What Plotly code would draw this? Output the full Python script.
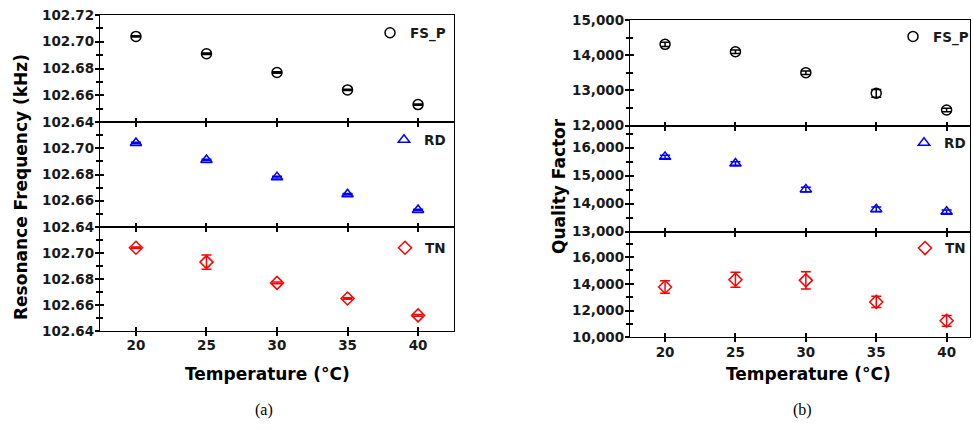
import plotly.graph_objects as go

# ---------------- data ----------------
temps = [20, 25, 30, 35, 40]
x_ticks = [20, 25, 30, 35, 40]

# (a) resonance frequency (kHz)
freq_fsp = [102.704, 102.691, 102.677, 102.664, 102.653]
freq_fsp_err = [0.0005, 0.0005, 0.0005, 0.0005, 0.0005]
freq_rd = [102.704, 102.691, 102.678, 102.665, 102.653]
freq_rd_err = [0.0006, 0.0006, 0.0006, 0.0006, 0.0006]
freq_tn = [102.704, 102.693, 102.677, 102.665, 102.652]
freq_tn_err = [0.0006, 0.0055, 0.0006, 0.0006, 0.0006]

# (b) quality factor
q_fsp = [14310, 14100, 13505, 12920, 12446]
q_fsp_err = [60, 50, 50, 110, 50]
q_rd = [15669, 15434, 14509, 13797, 13712]
q_rd_err = [60, 60, 80, 80, 60]
q_tn = [13762, 14312, 14260, 12647, 11234]
q_tn_err = [470, 560, 650, 420, 400]

series_names = ["FS_P", "RD", "TN"]

freq_ticks_top = [102.64, 102.66, 102.68, 102.70, 102.72]
freq_ticks = [102.64, 102.66, 102.68, 102.70]
q_ticks_p1 = [12000, 13000, 14000, 15000]
q_ticks_p2 = [13000, 14000, 15000, 16000]
q_ticks_p3 = [10000, 12000, 14000, 16000]

# ---------------- layout helpers ----------------
W, H = 973, 430


def px(x):
    return x / W


def py(y):
    return 1 - y / H


FONT = "DejaVu Sans"
TICKFONT = dict(family=FONT, size=13.5, color="#1a1a1a", weight="bold")

# panel geometry (pixels)
left_x = (100, 454)
left_y = [(15, 122), (122, 227), (227, 331)]
right_x = (630, 970)
right_y = [(20, 125.7), (125.7, 231.7), (231.7, 337.3)]

fig = go.Figure()

styles = [
    dict(color="black", symbol="circle-open"),
    dict(color="blue", symbol="triangle-up-open"),
    dict(color="red", symbol="diamond-open"),
]

panels = [
    (left_x, left_y[0], [17.45, 42.55], [102.64, 102.72], freq_ticks_top, 0.01, freq_fsp, freq_fsp_err, ".2f"),
    (left_x, left_y[1], [17.45, 42.55], [102.64, 102.72], freq_ticks, 0.01, freq_rd, freq_rd_err, ".2f"),
    (left_x, left_y[2], [17.45, 42.55], [102.64, 102.72], freq_ticks, 0.01, freq_tn, freq_tn_err, ".2f"),
    (right_x, right_y[0], [17.51, 41.66], [12000, 15000], q_ticks_p1, 500, q_fsp, q_fsp_err, ",d"),
    (right_x, right_y[1], [17.51, 41.66], [13000, 16780], q_ticks_p2, 500, q_rd, q_rd_err, ",d"),
    (right_x, right_y[2], [17.51, 41.66], [10000, 17900], q_ticks_p3, 1000, q_tn, q_tn_err, ",d"),
]

# legend anchor: (x px, y px)
legend_pos = [
    (451, 33), (451, 140), (451, 248),
    (974, 36.7), (971, 143), (971, 248.3),
]

layout = dict(
    width=W, height=H,
    margin=dict(l=0, r=0, t=0, b=0, autoexpand=False),
    paper_bgcolor="white", plot_bgcolor="rgba(0,0,0,0)",
    showlegend=True,
)

TL = 4
LW = 1.3
for i, (xp, yp, xr, yr, tv, mdt, vals, errs, fmt) in enumerate(panels):
    n = i + 1
    ov = i + 7
    k = i % 3
    xd = [px(xp[0]), px(xp[1])]
    yd = [py(yp[1]), py(yp[0])]
    bottom = (k == 2)
    xname = "xaxis" if n == 1 else f"xaxis{n}"
    yname = "yaxis" if n == 1 else f"yaxis{n}"
    xref = "x" if n == 1 else f"x{n}"
    yref = "y" if n == 1 else f"y{n}"
    layout[xname] = dict(
        domain=xd, range=xr, anchor=yref, tickvals=x_ticks, automargin=False,
        ticks="outside", ticklen=TL, tickwidth=1.5, tickcolor="black",
        showticklabels=bottom, tickfont=TICKFONT, ticklabelstandoff=-2,
        showline=True, linecolor="black", linewidth=LW, mirror=True,
        showgrid=False, zeroline=False,
    )
    layout[yname] = dict(
        domain=yd, range=yr, anchor=xref, tickvals=tv, tickformat=fmt, automargin=False,
        ticks="outside", ticklen=TL, tickwidth=1.5, tickcolor="black",
        minor=dict(dtick=mdt, tick0=yr[0], ticks="outside", ticklen=3, tickwidth=1.5,
                   tickcolor="black", showgrid=False),
        showticklabels=True, tickfont=TICKFONT, ticklabelstandoff=-2,
        showline=True, linecolor="black", linewidth=LW, mirror=True,
        showgrid=False, zeroline=False,
    )
    # overlay axes for inward ticks (cross-shaped ticks)
    layout[f"xaxis{ov}"] = dict(
        domain=xd, range=xr, anchor=f"y{ov}", overlaying=xref, tickvals=x_ticks, automargin=False,
        ticks="inside", ticklen=TL, tickwidth=1.5, tickcolor="black",
        showticklabels=False, showline=False, showgrid=False, zeroline=False,
    )
    layout[f"yaxis{ov}"] = dict(
        domain=yd, range=yr, anchor=f"x{ov}", overlaying=yref, tickvals=tv, automargin=False,
        ticks="inside", ticklen=TL, tickwidth=1.5, tickcolor="black",
        minor=dict(dtick=mdt, tick0=yr[0], ticks="inside", ticklen=3, tickwidth=1.5,
                   tickcolor="black", showgrid=False),
        showticklabels=False, showline=False, showgrid=False, zeroline=False,
    )
    fig.add_trace(go.Scatter(x=[], y=[], xaxis=f"x{ov}", yaxis=f"y{ov}",
                             showlegend=False, hoverinfo="skip"))

    st = styles[k]
    lg = "legend" if n == 1 else f"legend{n}"
    fig.add_trace(go.Scatter(
        x=temps, y=vals, mode="markers", name=series_names[k],
        xaxis=xref, yaxis=yref, legend=lg,
        marker=dict(symbol=st["symbol"], size=10, color=st["color"],
                    line=dict(width=1.5, color=st["color"])),
        error_y=dict(type="data", array=errs, visible=True, color=st["color"],
                     thickness=1.5, width=5),
    ))
    lx, ly = legend_pos[i]
    layout[lg] = dict(
        x=px(lx), y=py(ly), xanchor="right", yanchor="middle",
        bgcolor="rgba(0,0,0,0)", borderwidth=0,
        font=dict(family=FONT, size=13.5, color="#1a1a1a", weight="bold"),
        itemclick=False,
    )

TITLEFONT = dict(family=FONT, size=17, color="black", weight="bold")
annotations = [
    dict(text="Resonance Frequency (kHz)", x=px(21), y=py(187), xref="paper", yref="paper",
         textangle=-90, showarrow=False, font=TITLEFONT, xanchor="center", yanchor="middle"),
    dict(text="Quality Factor", x=px(559), y=py(186), xref="paper", yref="paper",
         textangle=-90, showarrow=False, font=TITLEFONT, xanchor="center", yanchor="middle"),
    dict(text="Temperature (°C)", x=px(267), y=py(374), xref="paper", yref="paper",
         showarrow=False, font=TITLEFONT, xanchor="center", yanchor="middle"),
    dict(text="Temperature (°C)", x=px(808), y=py(374), xref="paper", yref="paper",
         showarrow=False, font=TITLEFONT, xanchor="center", yanchor="middle"),
    dict(text="(a)", x=px(264), y=py(410), xref="paper", yref="paper",
         showarrow=False, font=dict(family="Liberation Serif", size=16, color="black"),
         xanchor="center", yanchor="middle"),
    dict(text="(b)", x=px(802), y=py(410), xref="paper", yref="paper",
         showarrow=False, font=dict(family="Liberation Serif", size=16, color="black"),
         xanchor="center", yanchor="middle"),
]
layout["annotations"] = annotations

fig.update_layout(**layout)
fig.write_html(
    "out.html",
    config={"displayModeBar": False},
    post_script="document.body.style.margin='0';document.body.style.padding='0';",
)
